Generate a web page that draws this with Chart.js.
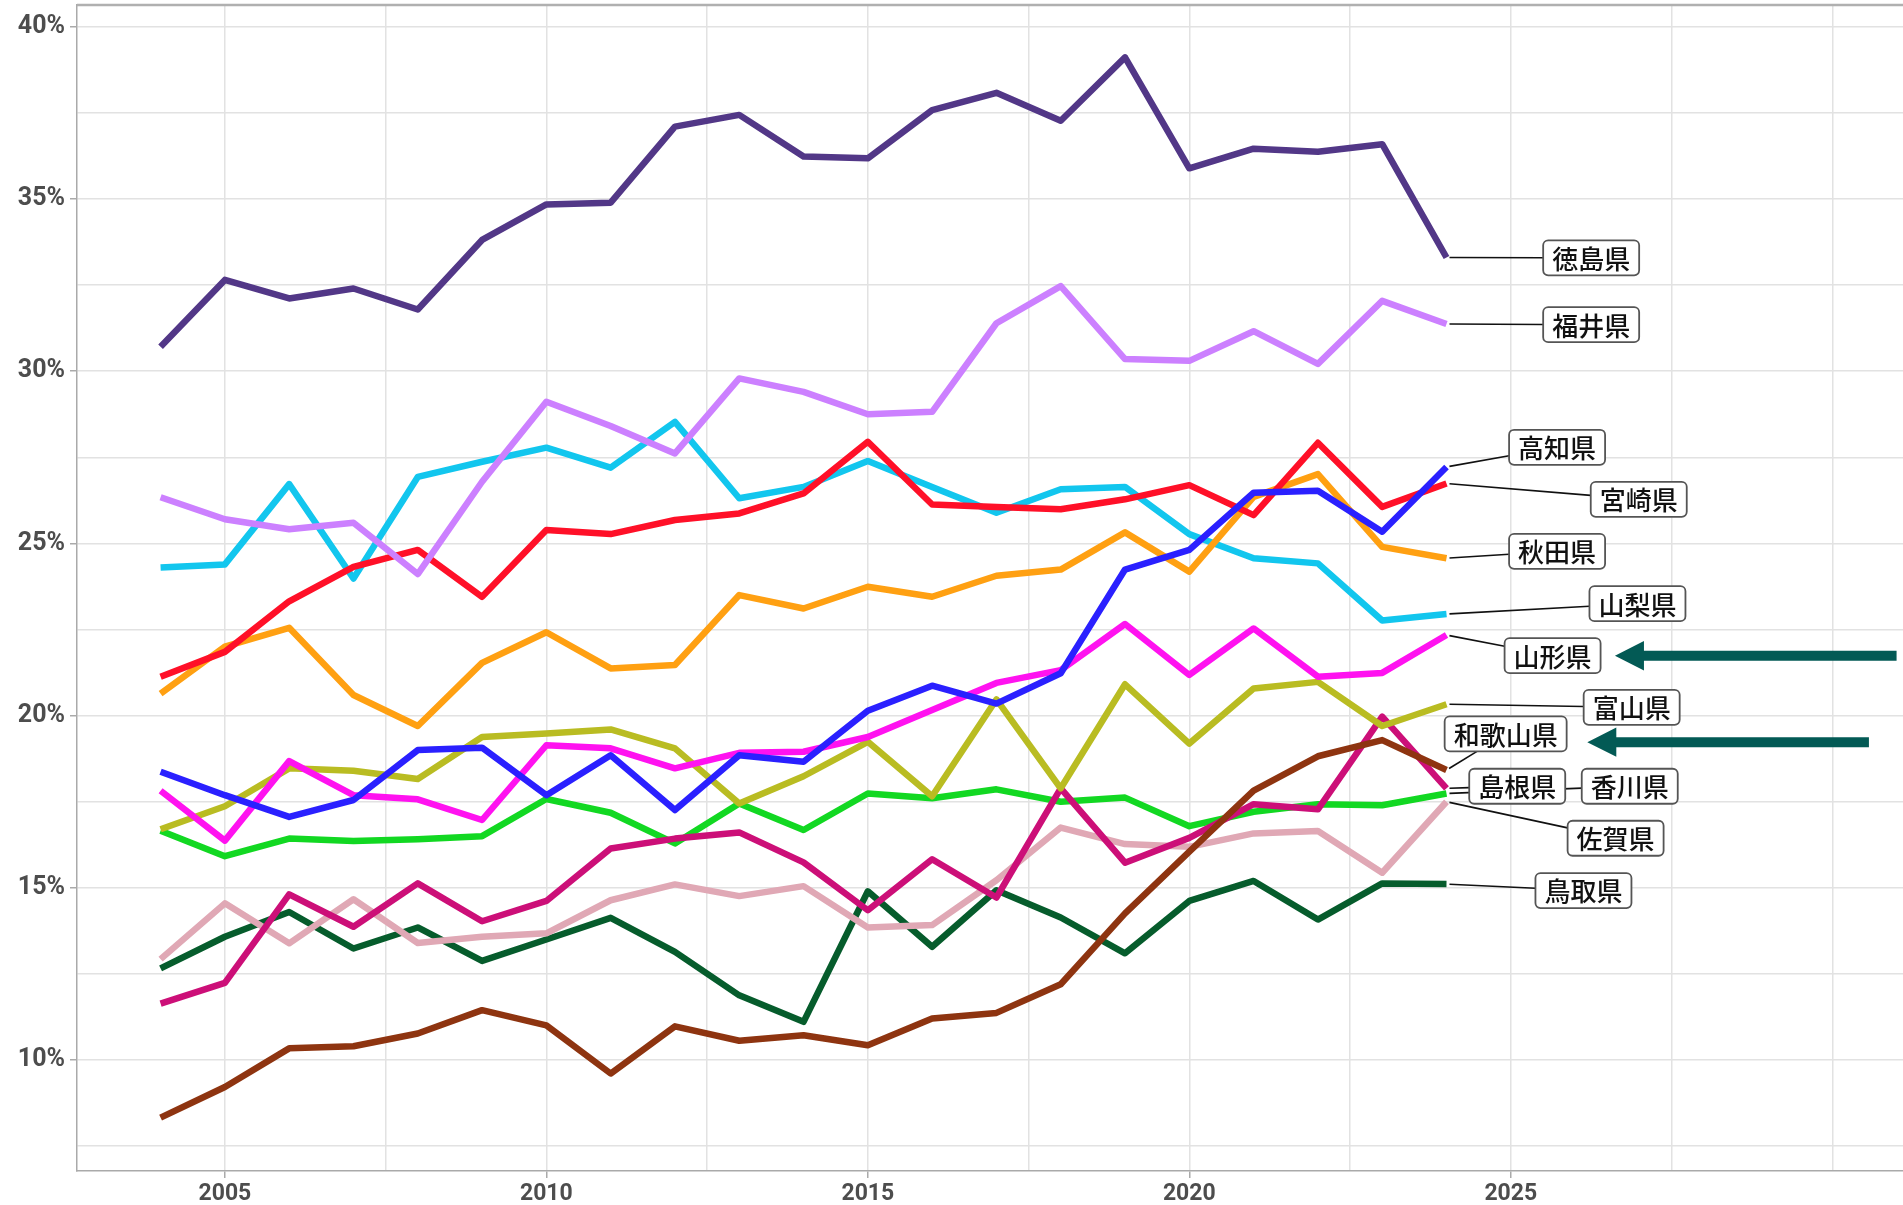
<!DOCTYPE html>
<html>
<head>
<meta charset="utf-8">
<style>
body { margin: 0; background: #fff; }
#wrap { width: 1903px; height: 1205px; }
</style>
</head>
<body>
<div id="wrap"><canvas id="myChart"></canvas></div>
<script src="https://cdn.jsdelivr.net/npm/chart.js@4.4.0/dist/chart.umd.min.js"></script>
<script>
const years = [2004,2005,2006,2007,2008,2009,2010,2011,2012,2013,2014,2015,2016,2017,2018,2019,2020,2021,2022,2023,2024];

const tokushima = [30.71,32.65,32.11,32.40,31.79,33.81,34.84,34.89,37.10,37.44,36.23,36.18,37.58,38.08,37.27,39.11,35.89,36.46,36.37,36.59,33.30];
const fukui     = [26.34,25.70,25.41,25.60,24.11,26.79,29.11,28.41,27.61,29.79,29.40,28.75,28.82,31.39,32.47,30.35,30.30,31.16,30.21,32.04,31.37];
const kochi     = [18.37,17.69,17.06,17.55,19.00,19.07,17.69,18.85,17.26,18.85,18.66,20.14,20.87,20.35,21.23,24.24,24.81,26.47,26.53,25.34,27.22];
const miyazaki  = [21.13,21.85,23.32,24.32,24.81,23.45,25.39,25.27,25.68,25.87,26.45,27.95,26.13,26.06,25.99,26.28,26.69,25.82,27.92,26.06,26.74];
const akita     = [20.64,22.00,22.55,20.60,19.70,21.53,22.42,21.37,21.47,23.50,23.11,23.74,23.45,24.06,24.24,25.32,24.18,26.35,27.01,24.90,24.57];
const yamanashi = [24.30,24.39,26.72,23.98,26.93,27.37,27.78,27.20,28.53,26.31,26.64,27.39,26.64,25.89,26.57,26.64,25.27,24.57,24.42,22.76,22.95];
const yamagata  = [17.82,16.37,18.68,17.69,17.57,16.97,19.14,19.05,18.47,18.92,18.95,19.38,20.16,20.95,21.32,22.66,21.18,22.53,21.13,21.24,22.34];
const toyama    = [16.70,17.37,18.47,18.40,18.16,19.38,19.48,19.60,19.05,17.45,18.24,19.24,17.66,20.47,17.89,20.91,19.19,20.79,20.98,19.70,20.33];
const kagawa    = [16.66,15.92,16.43,16.36,16.41,16.50,17.58,17.18,16.29,17.45,16.68,17.74,17.60,17.86,17.50,17.62,16.79,17.21,17.43,17.40,17.74];
const shimane   = [11.64,12.24,14.81,13.87,15.13,14.03,14.62,16.14,16.43,16.61,15.74,14.35,15.83,14.72,17.89,15.73,16.45,17.43,17.28,19.97,17.89];
const saga      = [12.93,14.55,13.39,14.67,13.40,13.58,13.68,14.64,15.10,14.76,15.05,13.85,13.92,15.22,16.75,16.27,16.19,16.58,16.65,15.44,17.50];
const tottori   = [12.66,13.58,14.30,13.24,13.85,12.88,13.50,14.13,13.14,11.88,11.11,14.90,13.29,14.93,14.14,13.10,14.62,15.20,14.08,15.13,15.11];
const wakayama  = [8.33,9.22,10.34,10.40,10.77,11.45,11.01,9.61,10.98,10.56,10.72,10.43,11.21,11.37,12.20,14.26,16.05,17.82,18.82,19.29,18.42];

const names  = ['徳島県','福井県','高知県','宮崎県','秋田県','山梨県','山形県','富山県','和歌山県','島根県','香川県','佐賀県','鳥取県'];
const series = [tokushima,fukui,kochi,miyazaki,akita,yamanashi,yamagata,toyama,wakayama,shimane,kagawa,saga,tottori];
const colors = ['#523787','#cc80ff','#2a20ff','#ff1028','#ffa012','#12c6ee','#ff12f0','#b9bc22','#8e3410','#cc0f78','#12d822','#e0a8b5','#065c2c'];

// where the end labels sit (in axis units)
const labelX = [2026.25,2026.25,2025.72,2026.99,2025.72,2026.97,2025.65,2026.88,2024.92,2025.10,2026.85,2026.63,2026.13];
const labelY = [33.29,31.35,27.79,26.28,24.77,23.25,21.74,20.24,19.47,17.95,17.95,16.44,14.92];

// the two highlight arrows
const arrowTip  = [2026.62,2026.19];
const arrowTail = [2031.00,2030.57];
const arrowY    = [21.74,19.23];

const isMajor = v => Math.abs(v/5 - Math.round(v/5)) < 1e-6;

const endLabels = {
  id: 'endLabels',
  afterDatasetsDraw(chart) {
    const {ctx, chartArea} = chart;
    const x = chart.scales.x, y = chart.scales.y;
    ctx.save();
    // top frame line
    ctx.strokeStyle = '#b0b0b0';
    ctx.lineWidth = 2.5;
    ctx.beginPath();
    ctx.moveTo(chartArea.left, chartArea.top);
    ctx.lineTo(chartArea.right, chartArea.top);
    ctx.stroke();

    ctx.font = '500 26px "Noto Sans CJK JP"';
    const boxes = names.map((n, i) => {
      const s = series[i];
      return {
        n,
        w: ctx.measureText(n).width + 18,
        h: 35,
        cx: x.getPixelForValue(labelX[i]),
        cy: y.getPixelForValue(labelY[i]),
        px: x.getPixelForValue(years[years.length - 1]),
        py: y.getPixelForValue(s[s.length - 1])
      };
    });

    ctx.strokeStyle = '#111';
    ctx.lineWidth = 1.6;
    boxes.forEach(b => {
      const dx = b.px - b.cx, dy = b.py - b.cy;
      const tx = dx === 0 ? Infinity : (b.w / 2) / Math.abs(dx);
      const ty = dy === 0 ? Infinity : (b.h / 2) / Math.abs(dy);
      const t = Math.min(tx, ty);
      const ex = b.cx + dx * t, ey = b.cy + dy * t;
      const len = Math.hypot(b.px - ex, b.py - ey);
      const sx = b.px + (ex - b.px) / len * 3, sy = b.py + (ey - b.py) / len * 3;
      ctx.beginPath();
      ctx.moveTo(sx, sy);
      ctx.lineTo(ex, ey);
      ctx.stroke();
    });

    boxes.forEach(b => {
      ctx.beginPath();
      ctx.roundRect(b.cx - b.w / 2, b.cy - b.h / 2, b.w, b.h, 5);
      ctx.fillStyle = '#fff';
      ctx.fill();
      ctx.strokeStyle = '#555';
      ctx.lineWidth = 1.8;
      ctx.stroke();
      ctx.fillStyle = '#111';
      ctx.textAlign = 'center';
      ctx.textBaseline = 'middle';
      ctx.fillText(b.n, b.cx, b.cy + 1);
    });

    // arrows
    ctx.fillStyle = '#035a55';
    arrowTip.forEach((tip, i) => {
      const x0 = x.getPixelForValue(tip), x1 = x.getPixelForValue(arrowTail[i]);
      const yy = y.getPixelForValue(arrowY[i]);
      const head = 29, half = 14.7, shaft = 5;
      ctx.beginPath();
      ctx.moveTo(x0, yy);
      ctx.lineTo(x0 + head, yy - half);
      ctx.lineTo(x0 + head, yy - shaft);
      ctx.lineTo(x1, yy - shaft);
      ctx.lineTo(x1, yy + shaft);
      ctx.lineTo(x0 + head, yy + shaft);
      ctx.lineTo(x0 + head, yy + half);
      ctx.closePath();
      ctx.fill();
    });
    ctx.restore();
  }
};

const noPad = s => { s.paddingTop = 0; s.paddingBottom = 0; s.paddingLeft = 0; s.paddingRight = 0; };

const ctx = document.getElementById('myChart').getContext('2d');
new Chart(ctx, {
  type: 'line',
  data: {
    datasets: series.map((s, i) => ({
      label: names[i],
      data: s.map((v, j) => ({x: years[j], y: v})),
      borderColor: colors[i],
      backgroundColor: colors[i],
      borderWidth: 6.5,
      borderJoinStyle: 'round',
      borderCapStyle: 'butt',
      pointRadius: 0,
      tension: 0
    }))
  },
  options: {
    responsive: true,
    maintainAspectRatio: false,
    animation: false,
    layout: {padding: {top: 5, right: 0, left: 0, bottom: 0}},
    plugins: {legend: {display: false}, tooltip: {enabled: false}},
    scales: {
      x: {
        type: 'linear',
        min: 2002.7,
        max: 2031.1,
        afterFit: s => { s.height = 34; noPad(s); },
        border: {color: '#aaaaaa', width: 1.5},
        grid: {
          color: '#e2e2e2',
          lineWidth: 1.5,
          tickLength: 7,
          tickColor: c => (c.tick && isMajor(c.tick.value) && c.tick.value <= 2025) ? '#aaaaaa' : 'rgba(0,0,0,0)'
        },
        ticks: {
          stepSize: 2.5,
          includeBounds: false,
          autoSkip: false,
          maxRotation: 0,
          padding: 2,
          color: '#4d4d4d',
          font: {family: 'Roboto', size: 23, weight: 'bold'},
          callback: v => (isMajor(v) && v <= 2025) ? String(v) : ''
        }
      },
      y: {
        type: 'linear',
        min: 6.78,
        max: 40.63,
        afterFit: s => { s.width = 77; noPad(s); },
        border: {color: '#aaaaaa', width: 1.5},
        grid: {
          color: '#e2e2e2',
          lineWidth: 1.5,
          tickLength: 7,
          tickColor: c => (c.tick && isMajor(c.tick.value)) ? '#aaaaaa' : 'rgba(0,0,0,0)'
        },
        ticks: {
          stepSize: 2.5,
          includeBounds: false,
          padding: 5,
          color: '#4d4d4d',
          font: {family: 'Roboto', size: 25, weight: 'bold'},
          callback: v => isMajor(v) ? Math.round(v) + '%' : ''
        }
      }
    }
  },
  plugins: [endLabels]
});
</script>
</body>
</html>
